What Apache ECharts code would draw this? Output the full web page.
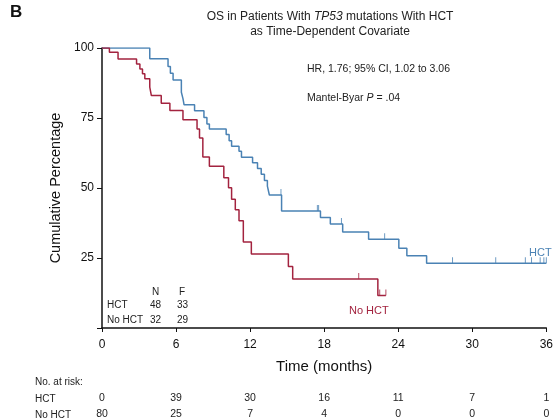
<!DOCTYPE html>
<html lang="en">
<head>
    <meta charset="UTF-8">
    <title>OS TP53 HCT</title>
    <script type="text/javascript" src="https://cdn.jsdelivr.net/npm/echarts@6/dist/echarts.min.js"></script>
    <style>body{margin:0;background:#fff;}</style>
</head>
<body>
<div id="myChart" style="width:556px;height:420px;"></div>
<script type="text/javascript">
    // 时间轴刻度和风险人数
    var months = [0, 6, 12, 18, 24, 30, 36];
    var hctAtRisk = [0, 39, 30, 16, 11, 7, 1];
    var noHctAtRisk = [80, 25, 7, 4, 0, 0, 0];

    // HCT 曲线 (月, 累积百分比)
    var hctTime = [0, 3.87, 5.35, 5.54, 5.76, 6.43, 6.56, 6.65, 7.5, 8.26, 8.5, 8.7, 10.06, 10.3, 10.5, 11.1, 11.3, 12.2, 12.6, 12.9, 13.16, 13.4, 13.56, 14.55, 17.7, 18.5, 19.5, 21.6, 24.05, 24.7, 26.3, 36];
    var hctSurv = [100, 96.2, 93.4, 91.0, 88.6, 84.2, 81.9, 79.7, 77.6, 75.2, 72.9, 71.1, 69.1, 66.9, 64.9, 63.1, 61.0, 59.0, 57.0, 54.9, 52.7, 50.7, 47.5, 41.8, 39.5, 37.1, 34.3, 31.7, 28.5, 25.8, 23.1, 23.1];
    var hctCensor = [14.5, 17.45, 17.55, 19.4, 22.9, 28.4, 31.9, 34.3, 34.8, 35.5, 35.8, 36.0];

    // No HCT 曲线
    var noTime = [0, 0.6, 1.3, 2.8, 3.07, 3.28, 3.47, 3.87, 4.0, 4.8, 5.5, 6.56, 7.7, 7.9, 8.17, 8.7, 9.87, 10.25, 10.5, 10.8, 11.1, 11.45, 12.1, 15.1, 15.45, 22.35, 23.0];
    var noSurv = [100, 98.5, 96.1, 94.3, 92.5, 90.8, 89.0, 86.0, 83.0, 80.3, 77.7, 74.4, 71.1, 67.9, 61.1, 57.8, 53.7, 50.1, 46.0, 42.2, 38.3, 30.7, 26.4, 22.0, 17.5, 11.6, 11.6];
    var noCensor = [20.8, 22.5, 23.0];

    var blue = '#4a82b4';
    var red = '#a3233f';
    var font = 'Liberation Sans, Arial, sans-serif';

    function pairs(t, s) {
        return t.map(function (v, i) { return [v, s[i]]; });
    }
    // 删失点取阶梯函数的值
    function censorPts(ct, t, s) {
        return ct.map(function (c) {
            var v = s[0];
            for (var i = 0; i < t.length; i++) { if (t[i] <= c) v = s[i]; }
            return [c, v];
        });
    }
    function txt(x, y, s, color, size) {
        return {type: 'text', x: x, y: y, style: {text: s, font: (size || 10) + 'px ' + font, fill: color || '#222'}};
    }

    var myChart = echarts.init(document.getElementById('myChart'));
    var riskAxis = function (arr, offset) {
        return {
            type: 'value', min: 0, max: 36, interval: 6, position: 'bottom', offset: offset,
            axisLine: {show: false}, axisTick: {show: false}, splitLine: {show: false},
            axisLabel: {
                fontSize: 10.5, color: '#222', fontFamily: font,
                formatter: function (v) { return arr[months.indexOf(v)]; }
            }
        };
    };
    var option = {
        animation: false,
        grid: {left: 102, right: 8, top: 48, bottom: 90},
        xAxis: [
            {
                type: 'value', min: 0, max: 36, interval: 6,
                name: 'Time (months)', nameLocation: 'middle', nameGap: 31,
                nameTextStyle: {fontSize: 15, color: '#111', fontFamily: font},
                axisLine: {lineStyle: {color: '#111', width: 1.5}},
                axisTick: {length: 4, lineStyle: {color: '#111'}},
                splitLine: {show: false},
                axisLabel: {fontSize: 12, color: '#111', fontFamily: font, margin: 11}
            },
            riskAxis(hctAtRisk, 57),
            riskAxis(noHctAtRisk, 73)
        ],
        yAxis: {
            type: 'value', min: 0, max: 100, interval: 25,
            name: 'Cumulative Percentage', nameLocation: 'middle', nameGap: 39, nameRotate: 90,
            nameTextStyle: {fontSize: 14.5, color: '#111', fontFamily: font},
            axisLine: {show: true, lineStyle: {color: '#111', width: 1.5}},
            axisTick: {show: true, length: 5, lineStyle: {color: '#111'}},
            splitLine: {show: false},
            axisLabel: {
                fontSize: 12, color: '#111', fontFamily: font, margin: 8,
                formatter: function (v) { return v === 0 ? '' : v; }
            }
        },
        series: [
            {
                name: 'HCT', type: 'line', step: 'end', symbol: 'none',
                lineStyle: {color: blue, width: 1.5}, data: pairs(hctTime, hctSurv)
            },
            {
                name: 'No HCT', type: 'line', step: 'end', symbol: 'none',
                lineStyle: {color: red, width: 1.5}, data: pairs(noTime, noSurv)
            },
            {
                type: 'scatter', symbol: 'rect', symbolSize: [1, 6], symbolOffset: [0, -3],
                itemStyle: {color: blue}, data: censorPts(hctCensor, hctTime, hctSurv)
            },
            {
                type: 'scatter', symbol: 'rect', symbolSize: [1, 6], symbolOffset: [0, -3],
                itemStyle: {color: red}, data: censorPts(noCensor, noTime, noSurv)
            }
        ],
        graphic: [
            {type: 'text', left: 10, top: 4, style: {text: 'B', font: 'bold 17px ' + font, fill: '#111'}},
            {
                type: 'text', x: 330, y: 9,
                style: {
                    text: '{n|OS in Patients With }{i|TP53}{n| mutations With HCT}\n{n|as Time-Dependent Covariate}',
                    align: 'center', lineHeight: 15,
                    rich: {
                        n: {font: '12px ' + font, fill: '#222', lineHeight: 15},
                        i: {font: 'italic 12px ' + font, fill: '#222', lineHeight: 15}
                    }
                }
            },
            txt(307, 64, 'HR, 1.76; 95% CI, 1.02 to 3.06', '#222', 10.5),
            {
                type: 'text', x: 307, y: 93,
                style: {
                    text: '{n|Mantel-Byar }{i|P}{n| = .04}',
                    rich: {n: {font: '10.5px ' + font, fill: '#222'}, i: {font: 'italic 10.5px ' + font, fill: '#222'}}
                }
            },
            txt(529, 247, 'HCT', blue, 11),
            txt(349, 305, 'No HCT', red, 11),
            // 内嵌表 N / F
            txt(152, 287, 'N'), txt(179, 287, 'F'),
            txt(107, 300, 'HCT'), txt(150, 300, '48'), txt(177, 300, '33'),
            txt(107, 315, 'No HCT'), txt(150, 315, '32'), txt(177, 315, '29'),
            // 风险表行名
            txt(35, 377, 'No. at risk:'),
            txt(35, 394, 'HCT'),
            txt(35, 410, 'No HCT')
        ]
    };
    myChart.setOption(option);
</script>
</body>
</html>
